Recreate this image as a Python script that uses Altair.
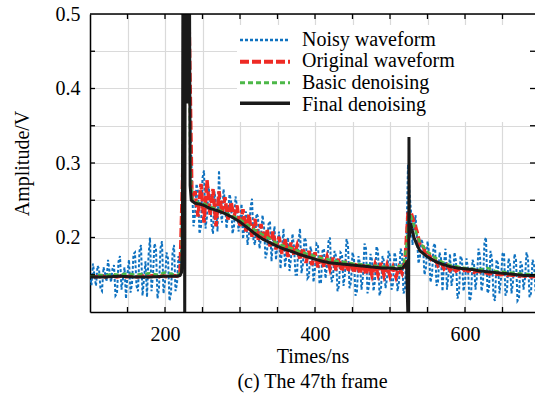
import altair as alt
import pandas as pd

# ---------------- data ----------------
T_NOISY = list(range(100, 701, 2))     # sample times (ns) of the noisy waveform
T_ORIG = list(range(100, 701, 4))      # sample times (ns) of the original waveform

NOISY = [
    0.150, 0.136, 0.165, 0.148, 0.135, 0.162, 0.158, 0.131, 0.128, 0.160, 0.152, 0.141, 0.170, 0.155, 0.140, 0.158, 0.163, 0.122, 0.125, 0.168,
    0.175, 0.130, 0.145, 0.160, 0.118, 0.152, 0.170, 0.126, 0.138, 0.178, 0.180, 0.135, 0.128, 0.182, 0.190, 0.122, 0.145, 0.168, 0.120, 0.175,
    0.200, 0.128, 0.150, 0.192, 0.185, 0.118, 0.132, 0.186, 0.195, 0.125, 0.140, 0.180, 0.172, 0.115, 0.125, 0.178, 0.190, 0.128, 0.138, 0.175,
    0.165, 0.190, 0.320, 0.450, 0.520, 0.540, 0.480, 0.350, 0.270, 0.215, 0.230, 0.272, 0.262, 0.205, 0.215, 0.280, 0.290, 0.212, 0.228, 0.268,
    0.255, 0.218, 0.205, 0.262, 0.245, 0.208, 0.290, 0.235, 0.220, 0.265, 0.248, 0.212, 0.232, 0.258, 0.250, 0.205, 0.215, 0.255, 0.242, 0.208,
    0.220, 0.245, 0.198, 0.215, 0.235, 0.190, 0.205, 0.240, 0.252, 0.196, 0.190, 0.232, 0.228, 0.185, 0.200, 0.230, 0.215, 0.172, 0.180, 0.218,
    0.222, 0.168, 0.195, 0.215, 0.170, 0.192, 0.208, 0.158, 0.185, 0.212, 0.160, 0.178, 0.200, 0.155, 0.172, 0.205, 0.188, 0.150, 0.150, 0.195,
    0.212, 0.152, 0.165, 0.200, 0.195, 0.145, 0.148, 0.188, 0.178, 0.140, 0.158, 0.192, 0.190, 0.138, 0.140, 0.182, 0.185, 0.145, 0.162, 0.195,
    0.200, 0.140, 0.145, 0.182, 0.175, 0.128, 0.135, 0.180, 0.178, 0.135, 0.152, 0.198, 0.190, 0.132, 0.140, 0.180, 0.172, 0.122, 0.128, 0.175,
    0.165, 0.130, 0.148, 0.192, 0.185, 0.125, 0.135, 0.178, 0.170, 0.128, 0.142, 0.188, 0.182, 0.122, 0.130, 0.175, 0.168, 0.132, 0.145, 0.182,
    0.175, 0.130, 0.138, 0.180, 0.172, 0.128, 0.140, 0.185, 0.180, 0.125, 0.130, 0.200, 0.298, 0.260, 0.235, 0.190, 0.210, 0.230, 0.200, 0.165,
    0.175, 0.198, 0.190, 0.150, 0.160, 0.195, 0.180, 0.140, 0.150, 0.188, 0.192, 0.135, 0.140, 0.180, 0.172, 0.128, 0.165, 0.185, 0.130, 0.150,
    0.178, 0.135, 0.148, 0.180, 0.168, 0.118, 0.125, 0.175, 0.170, 0.128, 0.140, 0.172, 0.158, 0.115, 0.120, 0.170, 0.165, 0.130, 0.148, 0.185,
    0.175, 0.128, 0.140, 0.195, 0.200, 0.125, 0.130, 0.182, 0.172, 0.120, 0.115, 0.170, 0.165, 0.125, 0.145, 0.178, 0.180, 0.122, 0.128, 0.172,
    0.165, 0.125, 0.140, 0.178, 0.170, 0.115, 0.118, 0.168, 0.162, 0.130, 0.145, 0.180, 0.172, 0.120, 0.125, 0.170, 0.165, 0.128, 0.140, 0.168,
    0.152,
]

ORIGINAL = [
    0.148, 0.149, 0.147, 0.148, 0.149, 0.147, 0.148, 0.149, 0.148, 0.147,
    0.148, 0.149, 0.147, 0.148, 0.149, 0.148, 0.147, 0.149, 0.148, 0.147,
    0.148, 0.149, 0.148, 0.147, 0.149, 0.148, 0.147, 0.148, 0.149, 0.148,
    0.150, 0.300, 0.520, 0.500, 0.250, 0.262, 0.228, 0.272, 0.220, 0.277,
    0.230, 0.265, 0.215, 0.262, 0.232, 0.254, 0.224, 0.248, 0.228, 0.243,
    0.214, 0.238, 0.208, 0.231, 0.201, 0.225, 0.196, 0.218, 0.194, 0.211,
    0.188, 0.208, 0.184, 0.201, 0.178, 0.198, 0.174, 0.193, 0.176, 0.189,
    0.170, 0.186, 0.166, 0.182, 0.163, 0.180, 0.160, 0.176, 0.160, 0.174,
    0.158, 0.173, 0.156, 0.172, 0.154, 0.170, 0.154, 0.168, 0.152, 0.167,
    0.151, 0.166, 0.150, 0.164, 0.149, 0.164, 0.150, 0.166, 0.149, 0.163,
    0.148, 0.160, 0.147, 0.160, 0.152, 0.168, 0.232, 0.234, 0.220, 0.208,
    0.190, 0.189, 0.176, 0.178, 0.168, 0.171, 0.162, 0.166, 0.158, 0.163,
    0.156, 0.160, 0.155, 0.158, 0.154, 0.157, 0.155, 0.156, 0.153, 0.155,
    0.154, 0.152, 0.153, 0.151, 0.152, 0.150, 0.151, 0.150, 0.151, 0.149,
    0.150, 0.149, 0.150, 0.148, 0.149, 0.148, 0.149, 0.147, 0.148, 0.147,
    0.148,
]

BASIC_T = [100, 110, 120, 130, 140, 150, 160, 170, 180, 190, 200, 210, 218, 222, 224,
           225.5, 229, 232, 233.5, 236, 240, 245, 250, 260, 270, 280, 290, 300, 310,
           320, 330, 340, 350, 360, 370, 380, 390, 400, 410, 420, 430, 440, 450, 460,
           470, 480, 490, 500, 510, 518, 522, 526, 530, 535, 540, 550, 560, 570, 580,
           590, 600, 610, 620, 630, 640, 650, 660, 670, 680, 690, 700]
BASIC = [0.149, 0.150, 0.149, 0.151, 0.150, 0.152, 0.150, 0.151, 0.152, 0.150, 0.153,
         0.151, 0.150, 0.156, 0.330, 0.520, 0.550, 0.520, 0.300, 0.252, 0.250, 0.246,
         0.247, 0.241, 0.238, 0.233, 0.229, 0.224, 0.217, 0.210, 0.204, 0.198, 0.192,
         0.188, 0.185, 0.181, 0.178, 0.175, 0.172, 0.170, 0.168, 0.167, 0.165, 0.164,
         0.163, 0.162, 0.161, 0.160, 0.161, 0.163, 0.190, 0.235, 0.222, 0.206, 0.193,
         0.181, 0.173, 0.167, 0.163, 0.161, 0.159, 0.158, 0.157, 0.159, 0.155, 0.154,
         0.153, 0.152, 0.151, 0.150, 0.150]

FINAL_T = [100, 120, 140, 160, 180, 200, 215, 220, 222, 223.2, 224, 225.5, 226.3,
           227.1, 228.5, 229.2, 230, 232.5, 233.5, 235, 240, 250, 260, 270, 280, 290,
           300, 310, 320, 330, 340, 350, 360, 370, 380, 390, 400, 410, 420, 430, 440,
           450, 460, 470, 480, 490, 500, 510, 517, 520, 522, 524.8, 525.3, 525.8, 527.5,
           529, 532, 536, 540, 550, 560, 570, 580, 590, 600, 610, 620, 630, 640, 650,
           660, 670, 680, 690, 700]
FINAL = [0.147, 0.147, 0.148, 0.147, 0.147, 0.148, 0.148, 0.149, 0.153, 0.190, 0.600,
         0.600, 0.070, 0.600, 0.600, 0.380, 0.600, 0.600, 0.270, 0.250, 0.246, 0.244,
         0.239, 0.236, 0.232, 0.227, 0.221, 0.213, 0.205, 0.198, 0.193, 0.188, 0.184,
         0.181, 0.177, 0.174, 0.171, 0.168, 0.166, 0.165, 0.164, 0.163, 0.162, 0.161,
         0.160, 0.159, 0.159, 0.158, 0.159, 0.163, 0.166, 0.060, 0.335, 0.200, 0.219,
         0.212, 0.200, 0.190, 0.182, 0.174, 0.168, 0.164, 0.161, 0.159, 0.158, 0.157,
         0.155, 0.154, 0.153, 0.152, 0.151, 0.150, 0.149, 0.149, 0.148]

SERIES = ["Noisy waveform", "Original waveform", "Basic denoising", "Final denoising"]
X_GRID = [100, 150, 200, 250, 300, 350, 400, 450, 500, 550, 600, 650]
Y_GRID = [0.10, 0.15, 0.20, 0.25, 0.30, 0.35, 0.40, 0.45, 0.50]

# ---------------- styling ----------------
FONT = "Liberation Serif"
W, H = 445, 298
COLORS = ["#0f72c0", "#ee2a24", "#4cb848", "#1a1a1a"]
DASHES = [[3, 2], [9, 3], [5, 3], [1, 0]]
WIDTHS = [2.0, 3.5, 2.5, 3.0]

X = alt.X("t:Q",
          scale=alt.Scale(domain=[100, 100 + W / 0.75], nice=False, zero=False),
          axis=alt.Axis(values=X_GRID, grid=True, gridColor="#dadada", gridWidth=1.2,
                        ticks=False, domainColor="black", domainWidth=1.5,
                        labelExpr="datum.value == 200 || datum.value == 400 || datum.value == 600 ? datum.label : ''",
                        labelFont=FONT, labelFontSize=20, labelColor="black",
                        labelPadding=12, labelOverlap=False, labelFlush=False,
                        title="Times/ns", titleFont=FONT, titleFontSize=20,
                        titleFontWeight="normal", titleColor="black",
                        titleY=50, titleBaseline="alphabetic", zindex=0))
Y = alt.Y("v:Q",
          scale=alt.Scale(domain=[0.1, 0.5], nice=False, zero=False),
          axis=alt.Axis(values=Y_GRID, grid=True, gridColor="#dadada", gridWidth=1.2,
                        ticks=False, domainColor="black", domainWidth=1.5,
                        labelExpr="datum.value > 0.19 && abs(datum.value*10 - round(datum.value*10)) < 0.01 ? format(datum.value, '.1f') : ''",
                        labelFont=FONT, labelFontSize=20, labelColor="black",
                        labelPadding=10, labelOverlap=False, labelFlush=False,
                        title="Amplitude/V", titleFont=FONT, titleFontSize=20,
                        titleFontWeight="normal", titleColor="black",
                        titleX=-68, titleY=H / 2, titleAngle=-90, titleAlign="center",
                        titleBaseline="middle", zindex=0))

dummy = pd.DataFrame({"a": [0]})
layers = []

# white legend box
layers.append(alt.Chart(dummy).mark_rect(fill="white").encode(
    x=alt.value(147), x2=alt.value(W), y=alt.value(11), y2=alt.value(108)))

series_data = [
    (T_NOISY, NOISY), (T_ORIG, ORIGINAL), (BASIC_T, BASIC), (FINAL_T, FINAL)]
for i, (ts, vs) in enumerate(series_data):
    df = pd.DataFrame({"t": ts, "v": vs})
    layers.append(alt.Chart(df).mark_line(
        clip=True, color=COLORS[i], strokeDash=DASHES[i], strokeWidth=WIDTHS[i]
    ).encode(x=X, y=Y))

# frame: top border and inward ticks
layers.append(alt.Chart(dummy).mark_rule(color="black", strokeWidth=1.5).encode(
    x=alt.value(0), x2=alt.value(W), y=alt.value(0)))
xt = pd.DataFrame({"t": X_GRID[1:]})
yt = pd.DataFrame({"v": Y_GRID[1:-1]})
layers.append(alt.Chart(xt).mark_rule(color="black", strokeWidth=1.3).encode(
    x=X, y=alt.value(H), y2=alt.value(H - 5)))
layers.append(alt.Chart(xt).mark_rule(color="black", strokeWidth=1.3).encode(
    x=X, y=alt.value(0), y2=alt.value(5)))
layers.append(alt.Chart(yt).mark_rule(color="black", strokeWidth=1.3).encode(
    y=Y, x=alt.value(0), x2=alt.value(5)))
layers.append(alt.Chart(yt).mark_rule(color="black", strokeWidth=1.3).encode(
    y=Y, x=alt.value(W - 5), x2=alt.value(W)))

# legend
SYM_Y = [26, 47.7, 68.7, 89.2]
TXT_Y = [31.5, 53.2, 74.9, 96.6]
for i, s in enumerate(SERIES):
    ld = pd.DataFrame({"label": [s]})
    layers.append(alt.Chart(ld).mark_rule(
        color=COLORS[i], strokeDash=DASHES[i], strokeWidth=WIDTHS[i] + 0.5
    ).encode(x=alt.value(150), x2=alt.value(200), y=alt.value(SYM_Y[i])))
    layers.append(alt.Chart(ld).mark_text(
        font=FONT, fontSize=20, color="black", align="left", baseline="alphabetic"
    ).encode(x=alt.value(212), y=alt.value(TXT_Y[i]), text="label:N"))

chart = alt.layer(*layers).properties(
    width=W, height=H,
    title=alt.TitleParams("(c) The 47th frame", orient="bottom", anchor="middle",
                          font=FONT, fontSize=20, fontWeight="normal", color="black",
                          offset=6),
    autosize=alt.AutoSizeParams(type="none"),
    padding={"left": 90, "top": 14, "right": 0, "bottom": 90},
).configure_view(stroke=None).configure(background="white")

chart.save("out.html", embed_options={"renderer": "svg", "actions": False})
